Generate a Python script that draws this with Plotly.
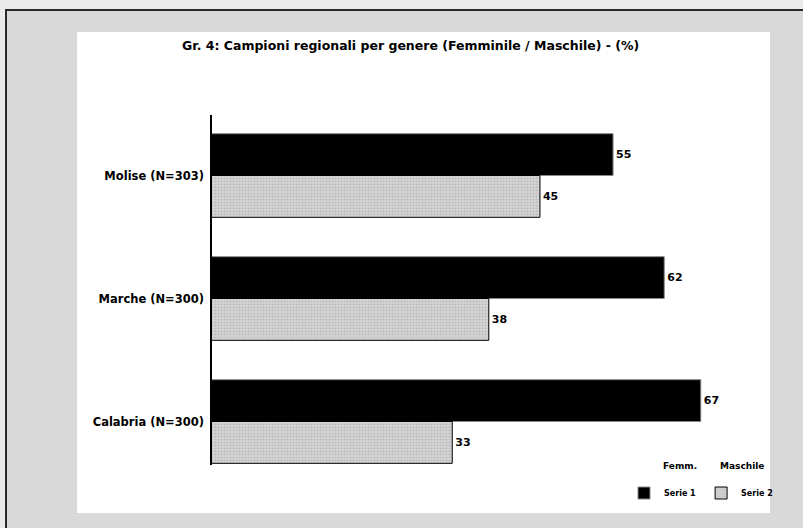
import plotly.graph_objects as go

# Data
categories = ["Molise (N=303)", "Marche (N=300)", "Calabria (N=300)"]
femminile = [55, 62, 67]
maschile = [45, 38, 33]
series_names = ["Serie 1", "Serie 2"]
title_text = "Gr. 4: Campioni regionali per genere (Femminile / Maschile) - (%)"

W, H = 803, 528
ML, MR, MT, MB = 211, 43, 114, 45
PW, PH = W - ML - MR, H - MT - MB


def px(x):
    return (x - ML) / PW


def py(y):
    return 1 - (y - MT) / PH


FONT = "DejaVu Sans"

fig = go.Figure()
fig.add_trace(go.Bar(
    y=categories, x=femminile, orientation="h", name=f"<b>{series_names[0]}</b>",
    marker=dict(color="#000000", line=dict(color="#888888", width=1)),
    text=femminile, textposition="outside", cliponaxis=False,
    textfont=dict(family=FONT, size=11, color="#000000"),
))
fig.add_trace(go.Bar(
    y=categories, x=maschile, orientation="h", name=f"<b>{series_names[1]}</b>",
    marker=dict(color="#c8c8c8",
                pattern=dict(shape=".", fgcolor="#a0a0a0", bgcolor="#d6d6d6",
                             size=3, solidity=0.4),
                line=dict(color="#000000", width=1)),
    text=maschile, textposition="outside", cliponaxis=False,
    textfont=dict(family=FONT, size=11, color="#000000"),
))

shapes = [
    # gray frame with dark top/left edge
    dict(type="rect", xref="paper", yref="paper", layer="below",
         x0=px(6), x1=px(840), y0=py(560), y1=py(10),
         fillcolor="#d9d9d9", line=dict(color="#2a2a2a", width=2)),
    # white chart area
    dict(type="rect", xref="paper", yref="paper", layer="below",
         x0=px(77), x1=px(770), y0=py(513), y1=py(32),
         fillcolor="#ffffff", line=dict(width=0)),
    # category axis line
    dict(type="line", xref="paper", yref="paper",
         x0=0, x1=0, y0=py(465), y1=py(115),
         line=dict(color="#000000", width=2)),
]

annotations = [
    dict(text=f"<b>{title_text}</b>", xref="paper", yref="paper",
         x=px(410), y=py(46), xanchor="center", yanchor="middle", showarrow=False,
         font=dict(family=FONT, size=12.5, color="#000000")),
    dict(text="<b>Femm.</b>", xref="paper", yref="paper", x=px(680), y=py(466),
         xanchor="center", yanchor="middle",
         showarrow=False, font=dict(family=FONT, size=9, color="#000000")),
    dict(text="<b>Maschile</b>", xref="paper", yref="paper", x=px(742), y=py(466),
         xanchor="center", yanchor="middle",
         showarrow=False, font=dict(family=FONT, size=9, color="#000000")),
]

fig.update_layout(
    width=W, height=H,
    margin=dict(l=ML, r=MR, t=MT, b=MB, pad=0, autoexpand=False),
    paper_bgcolor="#ebebeb", plot_bgcolor="rgba(0,0,0,0)",
    barmode="group", bargap=0.32, bargroupgap=0,
    showlegend=True,
    legend=dict(orientation="h", x=px(624), y=py(493), xanchor="left", yanchor="middle",
                font=dict(family=FONT, size=8, color="#000000"),
                bgcolor="rgba(0,0,0,0)", itemwidth=30, tracegroupgap=0),
    shapes=shapes, annotations=annotations,
    xaxis=dict(range=[0, 75.1], showgrid=False, zeroline=False, showticklabels=False,
               showline=False, ticks="", automargin=False),
    yaxis=dict(autorange="reversed", showgrid=False, showline=False,
               ticks="", ticklabelstandoff=6, automargin=False,
               tickfont=dict(family=FONT, size=11.5, color="#000000")),
    font=dict(family=FONT),
)
fig.update_yaxes(tickprefix="<b>", ticksuffix="</b>")
fig.update_traces(texttemplate="<b>%{x}</b>")

fig.write_html("out.html")
